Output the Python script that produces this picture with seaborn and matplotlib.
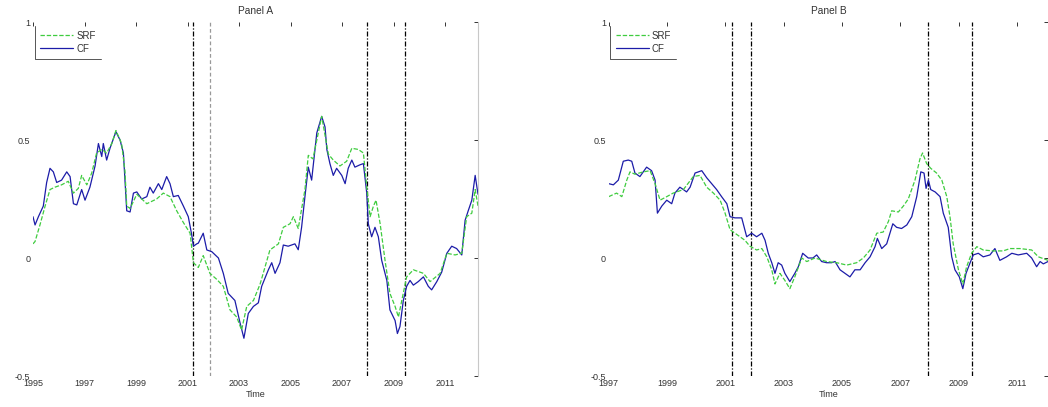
import numpy as np
import pandas as pd
import matplotlib
matplotlib.use("Agg")
import matplotlib.pyplot as plt
from matplotlib.lines import Line2D
import seaborn as sns

# ---------------- data (decimal years, values) ----------------
a_cf_t = [1995.00, 1995.08, 1995.21, 1995.40, 1995.53, 1995.66, 1995.79, 1995.92, 1996.11, 1996.31,
          1996.44, 1996.57, 1996.70, 1996.89, 1997.02, 1997.21, 1997.41, 1997.54, 1997.67, 1997.73,
          1997.86, 1997.99, 1998.22, 1998.38, 1998.51, 1998.64, 1998.77, 1998.90, 1999.03, 1999.22,
          1999.42, 1999.54, 1999.67, 1999.87, 2000.00, 2000.19, 2000.32, 2000.45, 2000.64, 2000.84,
          2001.03, 2001.16, 2001.23, 2001.36, 2001.42, 2001.61, 2001.75, 2001.94, 2002.20, 2002.39,
          2002.58, 2002.84, 2003.04, 2003.19, 2003.36, 2003.56, 2003.75, 2003.88, 2004.14, 2004.27,
          2004.40, 2004.59, 2004.72, 2004.91, 2005.17, 2005.30, 2005.43, 2005.56, 2005.69, 2005.82,
          2006.02, 2006.21, 2006.34, 2006.41, 2006.53, 2006.66, 2006.79, 2006.99, 2007.12, 2007.24,
          2007.38, 2007.50, 2007.70, 2007.83, 2007.96, 2008.02, 2008.15, 2008.28, 2008.41, 2008.54,
          2008.74, 2008.86, 2009.06, 2009.15, 2009.25, 2009.38, 2009.51, 2009.64, 2009.77, 2009.96,
          2010.16, 2010.35, 2010.48, 2010.68, 2010.87, 2011.07, 2011.26, 2011.45, 2011.65, 2011.78,
          2011.90, 2012.04, 2012.17, 2012.28]
a_cf_v = [0.175, 0.14, 0.175, 0.22, 0.32, 0.38, 0.365, 0.32, 0.33, 0.365,
          0.345, 0.23, 0.225, 0.29, 0.245, 0.30, 0.39, 0.485, 0.43, 0.485,
          0.415, 0.465, 0.535, 0.50, 0.445, 0.20, 0.195, 0.275, 0.28, 0.25,
          0.26, 0.30, 0.275, 0.315, 0.29, 0.345, 0.315, 0.26, 0.265, 0.22,
          0.175, 0.10, 0.05, 0.06, 0.063, 0.105, 0.034, 0.027, 0.0, -0.065,
          -0.15, -0.18, -0.275, -0.34, -0.235, -0.205, -0.19, -0.12, -0.05, -0.02,
          -0.065, -0.02, 0.055, 0.05, 0.06, 0.035, 0.13, 0.26, 0.385, 0.33,
          0.53, 0.60, 0.555, 0.46, 0.40, 0.35, 0.38, 0.35, 0.315, 0.38,
          0.415, 0.385, 0.395, 0.40, 0.275, 0.145, 0.09, 0.13, 0.09, -0.01,
          -0.095, -0.22, -0.265, -0.32, -0.29, -0.18, -0.12, -0.095, -0.115, -0.10,
          -0.08, -0.12, -0.135, -0.10, -0.06, 0.02, 0.05, 0.04, 0.013, 0.16,
          0.20, 0.245, 0.35, 0.27]

a_srf_t = [1995.00, 1995.08, 1995.27, 1995.47, 1995.66, 1995.85, 1996.11, 1996.37, 1996.57, 1996.76,
           1996.89, 1997.09, 1997.28, 1997.47, 1997.67, 1997.86, 1998.06, 1998.22, 1998.44, 1998.57,
           1998.64, 1998.77, 1999.03, 1999.42, 1999.80, 2000.06, 2000.32, 2000.58, 2000.84, 2001.10,
           2001.23, 2001.42, 2001.61, 2001.87, 2002.13, 2002.39, 2002.65, 2002.91, 2003.10, 2003.30,
           2003.56, 2003.82, 2004.20, 2004.53, 2004.72, 2004.98, 2005.11, 2005.30, 2005.56, 2005.69,
           2005.87, 2006.21, 2006.47, 2006.66, 2006.92, 2007.18, 2007.38, 2007.63, 2007.83, 2007.96,
           2008.09, 2008.22, 2008.32, 2008.48, 2008.67, 2008.86, 2009.06, 2009.19, 2009.32, 2009.51,
           2009.77, 2010.16, 2010.42, 2010.81, 2011.07, 2011.39, 2011.65, 2011.84, 2012.04, 2012.17,
           2012.28]
a_srf_v = [0.06, 0.07, 0.14, 0.22, 0.29, 0.30, 0.31, 0.325, 0.275, 0.295,
           0.35, 0.31, 0.36, 0.445, 0.46, 0.445, 0.485, 0.54, 0.485, 0.37,
           0.22, 0.21, 0.27, 0.23, 0.25, 0.275, 0.26, 0.20, 0.15, 0.105,
           -0.02, -0.04, 0.01, -0.065, -0.09, -0.12, -0.22, -0.25, -0.305, -0.205,
           -0.18, -0.11, 0.034, 0.06, 0.13, 0.145, 0.175, 0.125, 0.29, 0.435,
           0.42, 0.60, 0.44, 0.415, 0.39, 0.41, 0.465, 0.46, 0.445, 0.30,
           0.175, 0.22, 0.245, 0.145, -0.01, -0.15, -0.205, -0.25, -0.18, -0.08,
           -0.05, -0.065, -0.10, -0.065, 0.02, 0.013, 0.02, 0.175, 0.19, 0.29,
           0.22]

b_cf_t = [1997.00, 1997.16, 1997.33, 1997.50, 1997.67, 1997.79, 1997.90, 1998.07, 1998.30, 1998.47,
          1998.59, 1998.67, 1998.82, 1998.99, 1999.16, 1999.27, 1999.44, 1999.56, 1999.67, 1999.79,
          1999.96, 2000.19, 2000.36, 2000.53, 2000.70, 2000.87, 2001.05, 2001.16, 2001.33, 2001.56,
          2001.73, 2001.90, 2002.07, 2002.25, 2002.36, 2002.47, 2002.59, 2002.70, 2002.81, 2002.93,
          2003.04, 2003.21, 2003.38, 2003.50, 2003.65, 2003.84, 2004.00, 2004.13, 2004.30, 2004.47,
          2004.64, 2004.76, 2004.93, 2005.10, 2005.27, 2005.44, 2005.62, 2005.79, 2005.96, 2006.13,
          2006.21, 2006.36, 2006.53, 2006.74, 2006.87, 2007.04, 2007.22, 2007.39, 2007.56, 2007.70,
          2007.81, 2007.88, 2007.96, 2008.04, 2008.19, 2008.36, 2008.47, 2008.64, 2008.76, 2008.87,
          2009.02, 2009.14, 2009.25, 2009.39, 2009.50, 2009.67, 2009.84, 2010.07, 2010.24, 2010.41,
          2010.64, 2010.82, 2011.04, 2011.33, 2011.50, 2011.67, 2011.79, 2011.90, 2012.06]
b_cf_v = [0.315, 0.31, 0.33, 0.41, 0.415, 0.41, 0.36, 0.345, 0.385, 0.37,
          0.33, 0.19, 0.22, 0.245, 0.23, 0.275, 0.30, 0.29, 0.28, 0.30,
          0.36, 0.37, 0.34, 0.315, 0.29, 0.26, 0.23, 0.175, 0.17, 0.17,
          0.09, 0.105, 0.09, 0.105, 0.075, 0.02, -0.02, -0.065, -0.02, -0.03,
          -0.065, -0.10, -0.065, -0.037, 0.02, 0.0, 0.0, 0.013, -0.015, -0.02,
          -0.02, -0.015, -0.05, -0.065, -0.08, -0.05, -0.05, -0.02, 0.005, 0.048,
          0.083, 0.04, 0.06, 0.145, 0.13, 0.125, 0.14, 0.175, 0.26, 0.365,
          0.36, 0.295, 0.33, 0.29, 0.28, 0.26, 0.19, 0.13, 0.005, -0.05,
          -0.08, -0.13, -0.065, -0.02, 0.013, 0.02, 0.005, 0.013, 0.04, -0.01,
          0.005, 0.02, 0.013, 0.02, 0.0, -0.037, -0.015, -0.025, -0.015]

b_srf_t = [1997.00, 1997.27, 1997.45, 1997.62, 1997.73, 1997.90, 1998.19, 1998.42, 1998.59, 1998.76,
           1998.99, 1999.21, 1999.56, 1999.90, 2000.13, 2000.36, 2000.59, 2000.82, 2000.99, 2001.16,
           2001.33, 2001.50, 2001.67, 2001.84, 2002.07, 2002.25, 2002.42, 2002.59, 2002.70, 2002.87,
           2003.04, 2003.21, 2003.38, 2003.62, 2003.79, 2004.07, 2004.47, 2004.82, 2005.16, 2005.50,
           2005.73, 2005.96, 2006.19, 2006.41, 2006.59, 2006.70, 2006.93, 2007.10, 2007.27, 2007.50,
           2007.67, 2007.76, 2007.90, 2008.04, 2008.24, 2008.42, 2008.59, 2008.70, 2008.81, 2008.99,
           2009.14, 2009.27, 2009.44, 2009.62, 2009.84, 2010.17, 2010.52, 2010.76, 2011.10, 2011.50,
           2011.73, 2012.06]
b_srf_v = [0.26, 0.275, 0.26, 0.33, 0.365, 0.355, 0.365, 0.37, 0.315, 0.245,
           0.26, 0.275, 0.29, 0.345, 0.35, 0.30, 0.275, 0.245, 0.19, 0.12,
           0.105, 0.09, 0.075, 0.05, 0.034, 0.04, 0.005, -0.05, -0.11, -0.065,
           -0.095, -0.13, -0.08, 0.0, -0.015, 0.0, -0.015, -0.02, -0.03, -0.02,
           0.0, 0.034, 0.105, 0.11, 0.155, 0.20, 0.195, 0.22, 0.25, 0.33,
           0.42, 0.445, 0.40, 0.38, 0.36, 0.33, 0.26, 0.175, 0.06, -0.05,
           -0.11, -0.037, 0.02, 0.048, 0.034, 0.03, 0.03, 0.04, 0.04, 0.034,
           0.005, -0.01]

recessions = [2001.22, 2001.88, 2007.96, 2009.46]
a_xticks = [1995, 1997, 1999, 2001, 2003, 2005, 2007, 2009, 2011]
b_xticks = [1997, 1999, 2001, 2003, 2005, 2007, 2009, 2011]
yticks = [-0.5, 0, 0.5, 1]
ytick_labels = ["-0.5", "0", "0.5", "1"]

# ---------------- style ----------------
sns.set_style("white")
plt.rcParams["font.family"] = ["Liberation Sans", "DejaVu Sans"]
FS = 6.5
SRF_COL = "#3fcc3f"
CF_COL = "#1c1ca8"
TXT = "#333333"

fig = plt.figure(figsize=(10.48, 4.07), dpi=100)
axA = fig.add_axes([33 / 1048, 1 - 376 / 407, (478 - 33) / 1048, (376 - 22) / 407])
axB = fig.add_axes([608.7 / 1048, 1 - 376 / 407, (1048 - 608.7) / 1048, (376 - 22) / 407])

panels = [
    (axA, a_srf_t, a_srf_v, a_cf_t, a_cf_v, a_xticks, (1995, 2012.28), "Panel A",
     ["k", "#999999", "k", "k"], [(0, (4, 1.5, 1, 1.5)), (0, (3, 2)), (0, (4, 1.5, 1, 1.5)), (0, (4, 1.5, 1, 1.5))],
     True),
    (axB, b_srf_t, b_srf_v, b_cf_t, b_cf_v, b_xticks, (1997, 2012.06), "Panel B",
     ["k", "k", "k", "k"], [(0, (4, 1.5, 1, 1.5))] * 4, False),
]

for ax, st, sv, ct, cv, xt, xl, title, rcols, rstyles, right_spine in panels:
    dcf = pd.DataFrame({"t": ct, "v": cv})
    dsrf = pd.DataFrame({"t": st, "v": sv})
    sns.lineplot(data=dcf, x="t", y="v", ax=ax, color=CF_COL, lw=0.9, label="CF",
                 estimator=None, sort=False)
    sns.lineplot(data=dsrf, x="t", y="v", ax=ax, color=SRF_COL, lw=0.9, label="SRF",
                 estimator=None, sort=False, linestyle=(0, (3.5, 1.5)))
    for r, c, ls in zip(recessions, rcols, rstyles):
        ax.axvline(r, color=c, lw=0.9, linestyle=ls, zorder=1)
    ax.set_xlim(*xl)
    ax.set_ylim(-0.5, 1)
    ax.set_xticks(xt)
    ax.set_xticklabels([str(v) for v in xt], fontsize=FS, color=TXT)
    ax.set_yticks(yticks)
    ax.set_yticklabels(ytick_labels, fontsize=FS, color=TXT)
    ax.tick_params(axis="both", direction="in", length=3, width=0.7, color="#333333",
                   top=True, right=True, pad=2)
    ax.tick_params(axis="x", pad=2.5)
    for s in ["left", "top", "bottom"]:
        ax.spines[s].set_visible(False)
    if right_spine:
        ax.spines["right"].set_color("#c8c8c8")
        ax.spines["right"].set_linewidth(0.8)
    else:
        ax.spines["right"].set_visible(False)
    ax.set_title(title, fontsize=7.3, pad=6, color=TXT)
    ax.set_xlabel("Time", fontsize=FS, labelpad=1, color=TXT)
    ax.set_ylabel("")
    ax.grid(False)
    h, l = ax.get_legend_handles_labels()
    order = [l.index("SRF"), l.index("CF")]
    leg = ax.legend([h[i] for i in order], [l[i] for i in order], loc="upper left",
                    bbox_to_anchor=(0.004, 0.99), frameon=False, fontsize=7,
                    handlelength=3.4, handletextpad=0.3, labelspacing=0.3,
                    borderpad=0.55, borderaxespad=0)
    for t in leg.get_texts():
        t.set_color(TXT)

# legend partial frames (left and bottom edges) like the original
fig.canvas.draw()
inv = fig.transFigure.inverted()
for ax in (axA, axB):
    bb = ax.get_legend().get_window_extent()
    (x0, y0), (x1, y1) = inv.transform([(bb.x0, bb.y0), (bb.x1, bb.y1)])
    fig.add_artist(Line2D([x0, x0, x1], [y1, y0, y0], transform=fig.transFigure,
                          color="#555555", lw=0.7))

fig.savefig("out.png", dpi=100)
